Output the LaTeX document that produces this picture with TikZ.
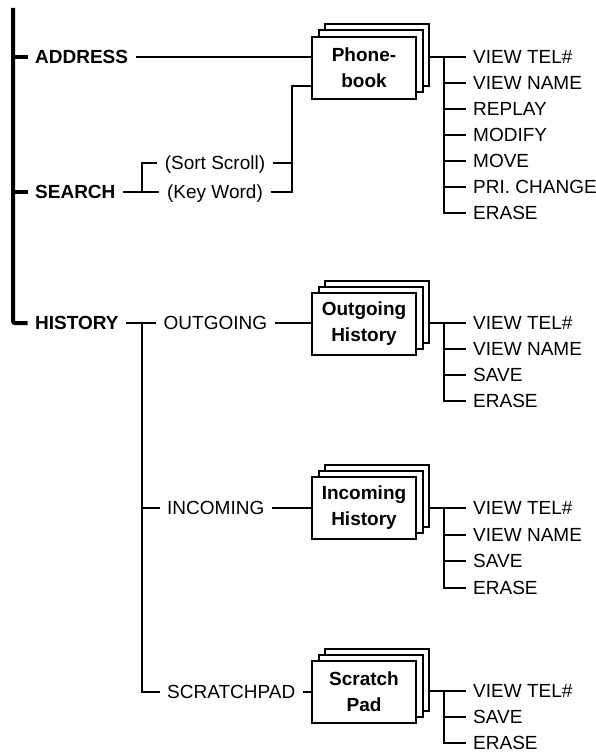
\documentclass[tikz,border=0pt]{standalone}
\usepackage{fontspec}
\setmainfont{Liberation Sans}
\usetikzlibrary{shadows, positioning}
\tikzset{
	lbl/.style={font=\fontsize{19}{22}\selectfont, inner xsep=7.5pt, inner ysep=0pt, text height=13.6pt, text depth=0pt, anchor=west},
	head/.style={lbl, font=\fontsize{19}{22}\selectfont\bfseries},
	wire/.style={line width=2pt},
	spine/.style={line width=4pt},
	card/.style={draw, line width=2pt, fill=white, minimum width=104pt, minimum height=62pt, inner sep=0pt,
		align=center, font=\fontsize{19}{26}\selectfont\bfseries,
		copy shadow={shadow xshift=12.5pt, shadow yshift=12.5pt, line width=2pt},
		copy shadow={shadow xshift=6.5pt, shadow yshift=6.5pt, line width=2pt}}
}

\begin{document}
\begin{tikzpicture}[x=1pt, y=-1pt]
	\useasboundingbox (0,0) rectangle (596,754);

	% --- Main menu ---
	\node[head] (address) at (27.5,57) {ADDRESS};
	\node[head] (search) at (27.5,192) {SEARCH};
	\node[head] (history) at (27.5,323) {HISTORY};
	\draw[spine, rounded corners=2pt] (13,8) |- (history.west);
	\draw[spine] (address.west -| 13,0) -- (address.west);
	\draw[spine] (search.west -| 13,0) -- (search.west);

	% --- Phonebook ---
	\node[card] (pb) at (364,68) {Phone-\\book};
	\coordinate (pbin) at ([yshift=-18pt]pb.west);
	\draw[wire] (address.east) -- (address.east -| pb.west);

	% Search modes
	\node[lbl, anchor=center] (sortscroll) at (215,163) {(Sort Scroll)};
	\node[lbl, anchor=center] (keyword) at (215,192) {(Key Word)};
	\draw[wire] (search.east) -- (keyword.west);
	\draw[wire] (sortscroll.west) -- ++(-15.5,0) |- (search.east);
	\draw[wire] (sortscroll.east) -- ++(19.5,0);
	\draw[wire] (keyword.east) -- ++(21.5,0) |- (pbin);

	% Phonebook functions
	\foreach \txt [count=\i from 0] in {VIEW TEL\#, VIEW NAME, REPLAY, MODIFY, MOVE, PRI. CHANGE, ERASE}
		\node[lbl] (pb\i) at (465.5,57+26*\i) {\txt};
	\draw[wire] ([xshift=12.5pt]pb.east |- pb0.west) -- (pb0.west);
	\draw[wire] (pb0.west -| 444,0) |- (pb6.west);
	\foreach \i in {1,...,5} \draw[wire] (pb\i.west -| 444,0) -- (pb\i.west);

	% --- History ---
	\node[lbl] (outgoing) at (156,323) {OUTGOING};
	\node[lbl] (incoming) at (159.5,508) {INCOMING};
	\node[lbl] (scratchpad) at (159.5,692) {SCRATCHPAD};
	\coordinate (hj) at (142,323);
	\draw[wire] (history.east) -- (outgoing.west);
	\draw[wire] (hj) |- (incoming.west);
	\draw[wire] (hj) |- (scratchpad.west);

	\node[card] (oh) at (364,324) {Outgoing\\History};
	\node[card] (ih) at (364,508) {Incoming\\History};
	\node[card] (sp) at (364,692) {Scratch\\Pad};
	\draw[wire] (outgoing.east) -- (outgoing.east -| oh.west);
	\draw[wire] (incoming.east) -- (incoming.east -| ih.west);
	\draw[wire] (scratchpad.east) -- (scratchpad.east -| sp.west);

	% Outgoing functions
	\foreach \txt [count=\i from 0] in {VIEW TEL\#, VIEW NAME, SAVE, ERASE}
		\node[lbl] (oh\i) at (465.5,323+26*\i) {\txt};
	\draw[wire] ([xshift=12.5pt]oh.east |- oh0.west) -- (oh0.west);
	\draw[wire] (oh0.west -| 444,0) |- (oh3.west);
	\foreach \i in {1,2} \draw[wire] (oh\i.west -| 444,0) -- (oh\i.west);

	% Incoming functions
	\foreach \txt [count=\i from 0] in {VIEW TEL\#, VIEW NAME, SAVE, ERASE}
		\node[lbl] (ih\i) at (465.5,508+26.5*\i) {\txt};
	\draw[wire] ([xshift=12.5pt]ih.east |- ih0.west) -- (ih0.west);
	\draw[wire] (ih0.west -| 444,0) |- (ih3.west);
	\foreach \i in {1,2} \draw[wire] (ih\i.west -| 444,0) -- (ih\i.west);

	% Scratch pad functions
	\foreach \txt [count=\i from 0] in {VIEW TEL\#, SAVE, ERASE}
		\node[lbl] (sp\i) at (465.5,691+26*\i) {\txt};
	\draw[wire] ([xshift=12.5pt]sp.east |- sp0.west) -- (sp0.west);
	\draw[wire] (sp0.west -| 444,0) |- (sp2.west);
	\draw[wire] (sp1.west -| 444,0) -- (sp1.west);
\end{tikzpicture}
\end{document}
